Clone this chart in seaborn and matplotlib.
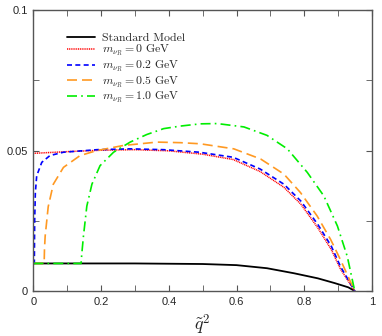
import numpy as np
import pandas as pd
import matplotlib
matplotlib.use("Agg")
import matplotlib.pyplot as plt
from matplotlib.ticker import MultipleLocator, FixedLocator
import seaborn as sns

# === Дані ===
x_sm = [0, 0.1, 0.2, 0.3, 0.4, 0.5, 0.6, 0.69, 0.77, 0.84, 0.89, 0.93, 0.949]
y_sm = [0.0098, 0.0098, 0.0098, 0.0098, 0.0097, 0.0096, 0.0092, 0.0081,
        0.0063, 0.0045, 0.0028, 0.0013, 0.0]

x_m00 = [0, 0.05, 0.1, 0.2, 0.3, 0.4, 0.5, 0.59, 0.67, 0.74, 0.79, 0.84,
         0.88, 0.907, 0.949]
y_m00 = [0.0490, 0.0493, 0.0496, 0.0501, 0.0503, 0.0499, 0.0487, 0.0468,
         0.0425, 0.0369, 0.0309, 0.0225, 0.0147, 0.0078, 0.0]

x_m02 = [0, 0.003, 0.004, 0.006, 0.01, 0.025, 0.049, 0.089, 0.188, 0.286,
         0.385, 0.49, 0.59, 0.67, 0.74, 0.79, 0.84, 0.88, 0.907, 0.949]
y_m02 = [0.0098, 0.0098, 0.025, 0.035, 0.041, 0.0458, 0.0482, 0.0494, 0.0503,
         0.0506, 0.0503, 0.0494, 0.0476, 0.0434, 0.038, 0.032, 0.0237, 0.0159,
         0.0087, 0.0]

x_m05 = [0, 0.032, 0.033, 0.035, 0.044, 0.059, 0.089, 0.138, 0.188, 0.266,
         0.365, 0.434, 0.493, 0.592, 0.671, 0.74, 0.789, 0.838, 0.878, 0.907,
         0.949]
y_m05 = [0.0098, 0.0098, 0.015, 0.0195, 0.030, 0.038, 0.044, 0.0482, 0.050,
         0.0518, 0.053, 0.0528, 0.0524, 0.0506, 0.047, 0.0416, 0.035, 0.0267,
         0.0183, 0.0111, 0.0]

x_m10 = [0, 0.141, 0.143, 0.148, 0.158, 0.173, 0.197, 0.237, 0.286, 0.335,
         0.385, 0.434, 0.493, 0.543, 0.622, 0.69, 0.75, 0.809, 0.858, 0.898,
         0.927, 0.949]
y_m10 = [0.0098, 0.0098, 0.013, 0.0195, 0.0302, 0.038, 0.0446, 0.0494, 0.053,
         0.0557, 0.0578, 0.0587, 0.0595, 0.0596, 0.0584, 0.0554, 0.0506,
         0.0422, 0.0338, 0.0231, 0.0123, 0.0]

labels = ["Standard Model",
          r"$m_{\nu_R} = 0$ GeV",
          r"$m_{\nu_R} = 0.2$ GeV",
          r"$m_{\nu_R} = 0.5$ GeV",
          r"$m_{\nu_R} = 1.0$ GeV"]

x_ticks = [0, 0.2, 0.4, 0.6, 0.8, 1]
x_tick_labels = ["0", "0.2", "0.4", "0.6", "0.8", "1"]
y_ticks = [0, 0.05, 0.1]
y_tick_labels = ["0", "0.05", "0.1"]

sns.set_style("ticks")
plt.rcParams["font.family"] = ["Liberation Sans", "DejaVu Sans"]
plt.rcParams["mathtext.fontset"] = "cm"
plt.rcParams["axes.unicode_minus"] = False

series = [(x_sm, y_sm), (x_m00, y_m00), (x_m02, y_m02), (x_m05, y_m05),
          (x_m10, y_m10)]
colors = ["black", "#ff0000", "#0000ff", "#ff9922", "#00ee00"]
styles = ["-", (0, (0.7, 0.5)), (0, (3.0, 2.0)), (0, (6.0, 3.0)),
          (0, (6.0, 2.5, 1.0, 2.5))]
widths = [1.3, 1.1, 1.2, 1.2, 1.2]

fig = plt.figure(figsize=(3.82, 3.36), dpi=100)
ax = fig.add_axes([0.0872, 0.134, 0.8866, 0.836])

for (xs, ys), lab, col, ls, lw in zip(series, labels, colors, styles, widths):
    d = pd.DataFrame({"q2": xs, "val": ys})
    sns.lineplot(data=d, x="q2", y="val", ax=ax, color=col, linestyle=ls,
                 linewidth=lw, label=lab, sort=False, estimator=None)

ax.set_xlim(0, 1)
ax.set_ylim(0, 0.1)
ax.xaxis.set_major_locator(FixedLocator(x_ticks))
ax.set_xticklabels(x_tick_labels)
ax.xaxis.set_minor_locator(MultipleLocator(0.1))
ax.yaxis.set_major_locator(FixedLocator(y_ticks))
ax.set_yticklabels(y_tick_labels)
ax.yaxis.set_minor_locator(MultipleLocator(0.025))
ax.tick_params(which="both", direction="in", top=True, right=True,
               color="#555555", labelsize=8, pad=4)
ax.tick_params(which="major", length=4)
ax.tick_params(which="minor", length=4)
for sp in ax.spines.values():
    sp.set_color("#555555")
    sp.set_linewidth(1.0)

ax.set_xlabel(r"$\tilde{q}^2$", fontsize=13, labelpad=4)
ax.set_ylabel("")

ax.legend(loc="upper left", bbox_to_anchor=(0.098, 0.92), frameon=False,
          borderpad=0, borderaxespad=0, handlelength=2.4, handletextpad=0.6,
          labelspacing=0.02, prop={"family": "cmr10", "size": 8.5})

fig.savefig("out.png", dpi=100)
